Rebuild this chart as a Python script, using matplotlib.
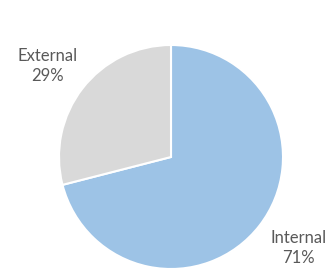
import matplotlib
matplotlib.use("Agg")
from matplotlib import pyplot as plt
import numpy as np

# data
categories = ["Internal", "External"]
shares = [71, 29]
colors = ["#9DC3E6", "#D9D9D9"]

fig = plt.figure(figsize=(3.31, 2.68), dpi=100)
fig.patch.set_facecolor("white")

# pie centre at (171, 157) px, radius ~112 px
cx, cy, r = 171, 157, 112
ax = fig.add_axes([(cx - r) / 331, (268 - cy - r) / 268, 2 * r / 331, 2 * r / 268])

wedges, _ = ax.pie(
    shares,
    colors=colors,
    startangle=90,
    counterclock=False,
    wedgeprops=dict(edgecolor="white", linewidth=1.5),
)

# label placement: (angle offset from wedge middle, distance in radii)
label_pos = [(2.4, 1.40), (1.4, 1.37)]
for w, c, v, (da, dist) in zip(wedges, categories, shares, label_pos):
    ang = np.deg2rad((w.theta1 + w.theta2) / 2 + da)
    ax.text(dist * np.cos(ang), dist * np.sin(ang), f"{c}\n{v}%",
            ha="center", va="center", color="#595959", fontsize=12,
            family=["Lato", "DejaVu Sans"], linespacing=1.3, clip_on=False)

ax.set_xlim(-1, 1)
ax.set_ylim(-1, 1)
ax.set_aspect("equal")
ax.axis("off")

fig.savefig("out.png", dpi=100)
